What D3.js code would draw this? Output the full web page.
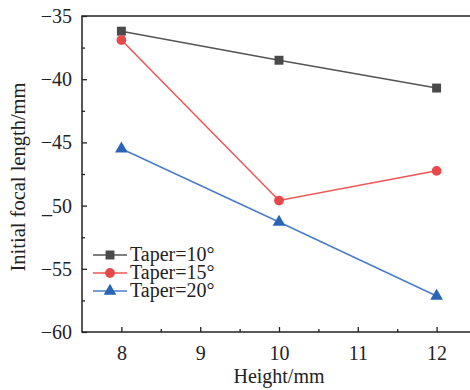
<!DOCTYPE html>
<html>
<head>
<meta charset="utf-8">
<script src="https://cdn.jsdelivr.net/npm/d3@7"></script>
<style>
  body { margin: 0; background: #fff; }
</style>
</head>
<body>
<div id="chart"></div>
<script>
// data
var heights = [8, 10, 12];
var taper10 = [-36.2, -38.5, -40.7];
var taper15 = [-36.9, -49.6, -47.25];
var taper20 = [-45.5, -51.3, -57.15];
var seriesNames = ["Taper=10\u00b0", "Taper=15\u00b0", "Taper=20\u00b0"];
var xTicks = [8, 9, 10, 11, 12];
var yTicks = [-35, -40, -45, -50, -55, -60];
var yTickLabels = ["\u221235", "\u221240", "\u221245", "_50", "\u221255", "\u221260"];

var FONT = "'Liberation Serif', 'Times New Roman', serif";
var width = 470, height = 390;
var margin = {top: 16, left: 82, bottom: 332, right: 476};

var svg = d3.select("#chart")
  .append("svg")
  .attr("width", width)
  .attr("height", height)
  .attr("font-family", FONT);

var x = d3.scaleLinear().domain([7.5, 12.5]).range([margin.left, margin.right]);
var y = d3.scaleLinear().domain([-60, -35]).range([margin.bottom, margin.top]);

// frame
svg.append("rect")
  .attr("x", margin.left)
  .attr("y", margin.top)
  .attr("width", margin.right - margin.left)
  .attr("height", margin.bottom - margin.top)
  .attr("fill", "none")
  .attr("stroke", "#222")
  .attr("stroke-width", 1.5);

// x axis
var xAxis = svg.append("g")
  .attr("transform", "translate(0," + margin.bottom + ")")
  .call(d3.axisBottom(x).tickValues(xTicks).tickSizeInner(-5).tickSizeOuter(0).tickPadding(14)
    .tickFormat(d3.format("d")));
xAxis.select(".domain").remove();
xAxis.attr("font-family", FONT);
xAxis.selectAll("text").attr("font-size", 20).attr("fill", "#222").attr("font-family", FONT);
xAxis.selectAll("line").attr("stroke", "#222").attr("stroke-width", 1.3);
svg.append("g")
  .attr("transform", "translate(0," + margin.bottom + ")")
  .call(d3.axisBottom(x).tickValues([8.5, 9.5, 10.5, 11.5]).tickSize(-3).tickFormat(""))
  .call(g => g.select(".domain").remove())
  .selectAll("line").attr("stroke", "#222").attr("stroke-width", 1.3);

// y axis
var yAxis = svg.append("g")
  .attr("transform", "translate(" + margin.left + ",0)")
  .call(d3.axisLeft(y).tickValues(yTicks).tickSizeInner(-5).tickSizeOuter(0).tickPadding(10)
    .tickFormat((d, i) => yTickLabels[i]));
yAxis.select(".domain").remove();
yAxis.attr("font-family", FONT);
yAxis.selectAll("text").attr("font-size", 20).attr("fill", "#222").attr("font-family", FONT);
yAxis.selectAll("line").attr("stroke", "#222").attr("stroke-width", 1.3);
svg.append("g")
  .attr("transform", "translate(" + margin.left + ",0)")
  .call(d3.axisLeft(y).tickValues([-37.5, -42.5, -47.5, -52.5, -57.5]).tickSize(-3).tickFormat(""))
  .call(g => g.select(".domain").remove())
  .selectAll("line").attr("stroke", "#222").attr("stroke-width", 1.3);

// axis titles
svg.append("text")
  .attr("x", 279)
  .attr("y", 383)
  .attr("text-anchor", "middle")
  .attr("font-size", 20)
  .attr("fill", "#222")
  .text("Height/mm");

svg.append("text")
  .attr("transform", "translate(25,177) rotate(-90)")
  .attr("text-anchor", "middle")
  .attr("font-size", 20.5)
  .attr("fill", "#222")
  .text("Initial focal length/mm");

// series
var series = [
  {name: seriesNames[0], values: taper10, line: "#555555", fill: "#4a4a4a", shape: d3.symbolSquare, size: 80},
  {name: seriesNames[1], values: taper15, line: "#f05555", fill: "#e84848", shape: d3.symbolCircle, size: 75},
  {name: seriesNames[2], values: taper20, line: "#4a7ccc", fill: "#2a64b4", shape: d3.symbolTriangle, size: 70}
];

var line = d3.line().x((d, i) => x(heights[i])).y(d => y(d));

series.forEach(function(s) {
  svg.append("path")
    .datum(s.values)
    .attr("d", line)
    .attr("fill", "none")
    .attr("stroke", s.line)
    .attr("stroke-width", 1.5);

  svg.selectAll(null)
    .data(s.values)
    .enter()
    .append("path")
    .attr("d", d3.symbol().type(s.shape).size(s.size))
    .attr("transform", (d, i) => "translate(" + x(heights[i]) + "," + y(d) + ")")
    .attr("fill", s.fill);
});

// legend
var legend = svg.append("g").attr("transform", "translate(93,255)");
series.forEach(function(s, i) {
  var g = legend.append("g").attr("transform", "translate(0," + (i * 18) + ")");
  g.append("line")
    .attr("x1", 0).attr("x2", 34)
    .attr("y1", 0).attr("y2", 0)
    .attr("stroke", s.line)
    .attr("stroke-width", 1.5);
  g.append("path")
    .attr("d", d3.symbol().type(s.shape).size(s.size))
    .attr("transform", "translate(17,0)")
    .attr("fill", s.fill);
  g.append("text")
    .attr("x", 37)
    .attr("y", 6)
    .attr("font-size", 20)
    .attr("fill", "#222")
    .text(s.name);
});
</script>
</body>
</html>
